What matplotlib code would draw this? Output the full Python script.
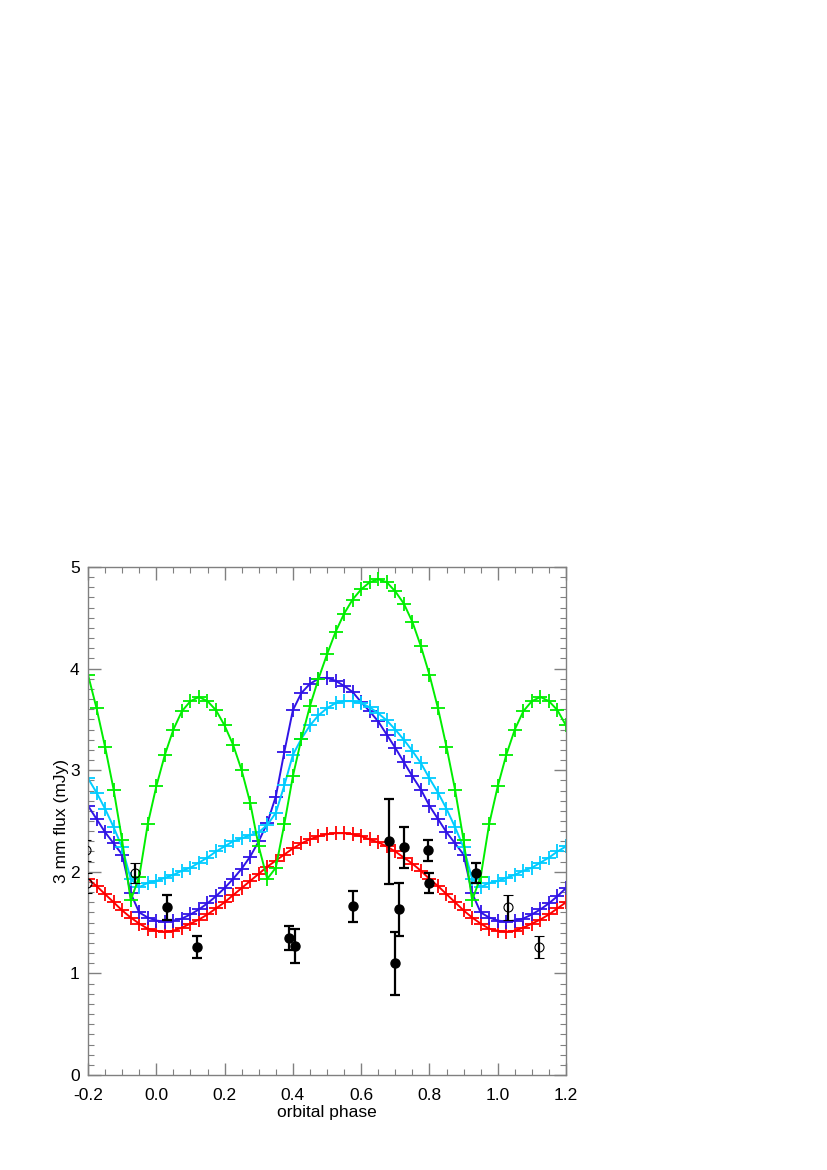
import numpy as np
import matplotlib
matplotlib.use("Agg")
import matplotlib.pyplot as plt
from matplotlib.ticker import MultipleLocator

plt.rcParams['font.family'] = ['Liberation Sans', 'DejaVu Sans']

# model light curves, sampled every 0.025 in phase
phase = np.linspace(-0.2, 1.2, 57)

flux_green = [3.94, 3.61, 3.23, 2.81, 2.31, 1.72, 1.95, 2.47, 2.84, 3.15, 3.40, 3.58, 3.68, 3.72,
              3.68, 3.59, 3.44, 3.25, 3.00, 2.68, 2.25, 1.93, 2.04, 2.47, 2.94, 3.31, 3.63, 3.90,
              4.14, 4.36, 4.54, 4.68, 4.78, 4.85, 4.88, 4.85, 4.76, 4.64, 4.46, 4.22, 3.94,
              3.61, 3.23, 2.81, 2.31, 1.72, 1.95, 2.47, 2.84, 3.15, 3.40, 3.58, 3.68, 3.72,
              3.68, 3.59, 3.44]
flux_blue = [2.65, 2.52, 2.39, 2.28, 2.17, 1.79, 1.60, 1.55, 1.52, 1.51, 1.52, 1.54, 1.58, 1.63,
             1.69, 1.76, 1.84, 1.93, 2.03, 2.15, 2.30, 2.48, 2.74, 3.18, 3.59, 3.76, 3.85, 3.90,
             3.91, 3.88, 3.83, 3.77, 3.67, 3.58, 3.48, 3.35, 3.22, 3.08, 2.94, 2.81, 2.65,
             2.52, 2.39, 2.28, 2.17, 1.79, 1.60, 1.55, 1.52, 1.51, 1.52, 1.54, 1.58, 1.63,
             1.69, 1.76, 1.84]
flux_cyan = [2.92, 2.78, 2.62, 2.44, 2.24, 1.93, 1.85, 1.89, 1.91, 1.94, 1.97, 2.01, 2.04, 2.09,
             2.14, 2.20, 2.25, 2.30, 2.33, 2.36, 2.39, 2.46, 2.58, 2.85, 3.15, 3.31, 3.44, 3.54,
             3.61, 3.66, 3.68, 3.68, 3.66, 3.62, 3.56, 3.49, 3.40, 3.30, 3.19, 3.07, 2.92,
             2.78, 2.62, 2.44, 2.24, 1.93, 1.85, 1.89, 1.91, 1.94, 1.97, 2.01, 2.04, 2.09,
             2.14, 2.20, 2.25]
flux_red = [1.93, 1.86, 1.78, 1.70, 1.62, 1.55, 1.49, 1.44, 1.42, 1.41, 1.42, 1.45, 1.49, 1.53,
            1.58, 1.64, 1.70, 1.77, 1.84, 1.91, 1.98, 2.05, 2.11, 2.17, 2.23, 2.28, 2.32, 2.35,
            2.37, 2.38, 2.38, 2.37, 2.35, 2.32, 2.29, 2.25, 2.20, 2.14, 2.08, 2.01, 1.93,
            1.86, 1.78, 1.70, 1.62, 1.55, 1.49, 1.44, 1.42, 1.41, 1.42, 1.45, 1.49, 1.53,
            1.58, 1.64, 1.70]

# observed 3 mm fluxes
obs_phase = [0.030, 0.120, 0.389, 0.406, 0.577, 0.681, 0.725, 0.699, 0.711, 0.795, 0.798, 0.937]
obs_flux = [1.65, 1.26, 1.35, 1.27, 1.66, 2.30, 2.24, 1.10, 1.63, 2.21, 1.89, 1.99]
obs_err = [0.12, 0.11, 0.12, 0.17, 0.15, 0.42, 0.20, 0.31, 0.26, 0.10, 0.10, 0.10]

# same points repeated one cycle away
rep_phase = [-0.205, -0.202, -0.063, 1.030, 1.120]
rep_flux = [2.21, 1.89, 1.99, 1.65, 1.26]
rep_err = [0.10, 0.10, 0.10, 0.12, 0.11]

fig = plt.figure(figsize=(8.27, 11.70), dpi=100)
ax = fig.add_axes([88/827, 1 - 1075/1170, (566 - 88)/827, (1075 - 567)/1170])

curve_kw = dict(marker='+', markersize=9.5, markeredgewidth=1.3, linewidth=1.4)
ax.plot(phase, flux_red, color='#ff0000', **curve_kw)
ax.plot(phase, flux_blue, color='#3014e6', **curve_kw)
ax.plot(phase, flux_cyan, color='#00ccff', **curve_kw)
ax.plot(phase, flux_green, color='#00ee00', **curve_kw)

ax.errorbar(obs_phase, obs_flux, yerr=obs_err, fmt='o', color='black', markersize=6.5,
            elinewidth=1.6, capsize=3.5, capthick=1.6, zorder=5)
ax.errorbar(rep_phase, rep_flux, yerr=rep_err, fmt='o', color='black', mfc='none',
            markersize=6.5, markeredgewidth=0.8, elinewidth=1.6, capsize=3.5, capthick=1.6,
            zorder=5)

ax.set_xlim(-0.2, 1.2)
ax.set_ylim(0, 5)
ax.xaxis.set_major_locator(MultipleLocator(0.2))
ax.xaxis.set_minor_locator(MultipleLocator(0.05))
ax.yaxis.set_major_locator(MultipleLocator(1))
ax.yaxis.set_minor_locator(MultipleLocator(0.1))
ax.set_xticks(np.arange(-0.2, 1.21, 0.2))
ax.set_xticklabels(['-0.2', '0.0', '0.2', '0.4', '0.6', '0.8', '1.0', '1.2'])

for s in ax.spines.values():
    s.set_color('#808080')
    s.set_linewidth(1.0)
ax.tick_params(which='both', direction='in', top=True, right=True, colors='#808080',
               labelcolor='black', labelsize=12.5)
ax.tick_params(which='major', length=9, width=1.0, pad=6)
ax.tick_params(axis='x', which='major', pad=9)
ax.tick_params(which='minor', length=4.5, width=0.8)

ax.set_xlabel('orbital phase', fontsize=12.5, labelpad=2)
ax.set_ylabel('3 mm flux (mJy)', fontsize=12.5, labelpad=1)

fig.savefig('out.png', dpi=100)
